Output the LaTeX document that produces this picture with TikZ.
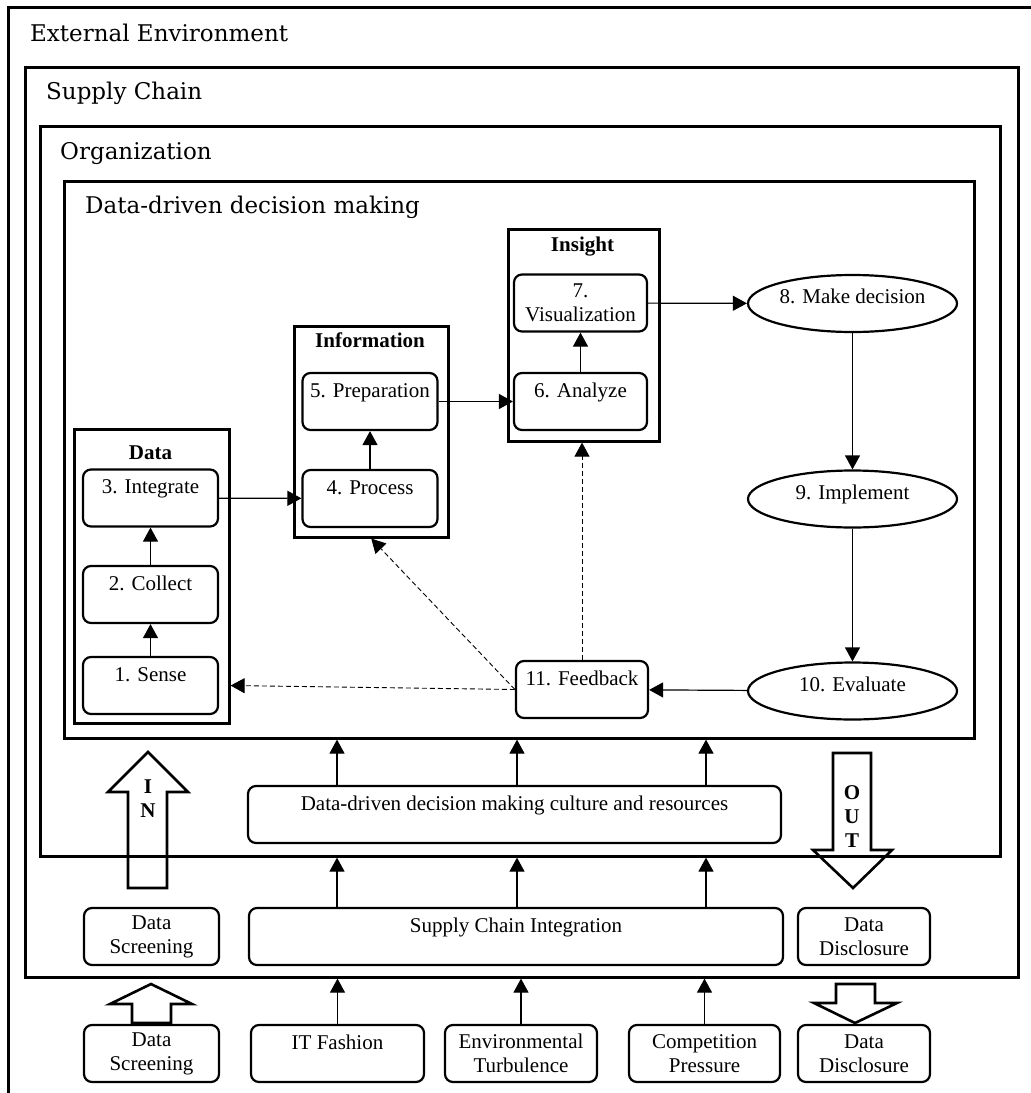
\documentclass[tikz,border=0pt]{standalone}
\usepackage{fontspec}
\setmainfont{Liberation Serif}
\newfontfamily\headfont{DejaVu Serif}
\usetikzlibrary{positioning, shapes.geometric, arrows.meta}

\begin{document}
\begin{tikzpicture}[x=1pt, y=-1pt,
  frame/.style={draw, line width=2.6pt, inner sep=0pt, anchor=north west},
  layer/.style={anchor=base west, inner sep=0pt, font=\headfont\fontsize{23}{27}\selectfont},
  group/.style={draw, line width=2.6pt, inner sep=0pt, anchor=north west},
  grouplbl/.style={anchor=base, inner sep=0pt, font=\bfseries\fontsize{21}{24}\selectfont},
  box/.style={draw, rounded corners=8pt, line width=2.2pt, minimum height=57pt,
              inner sep=0pt, align=center, font=\fontsize{21}{24}\selectfont},
  stage/.style={box, minimum width=135pt, text height=14.5pt, text depth=23.5pt},
  oval/.style={draw, ellipse, line width=2.2pt, minimum width=209pt, minimum height=57pt,
               inner sep=0pt, text height=14.5pt, text depth=14pt, font=\fontsize{21}{24}\selectfont},
  flow/.style={line width=1.2pt, -{Triangle[length=14pt, width=15pt]}},
  back/.style={flow, line width=0.9pt, dash pattern=on 5pt off 3pt},
  blk/.style={line width=2.6pt, line join=miter},
  io/.style={align=center, inner sep=0pt, font=\bfseries\fontsize{21}{24}\selectfont}
]
  \useasboundingbox (0,0) rectangle (1031,1093);

  % Nested layers
  \node[frame, minimum width=1040pt, minimum height=1110pt] (env) at (7,6) {};
  \node[frame, minimum width=993pt, minimum height=910pt] (sc) at (24,66) {};
  \node[frame, minimum width=960pt, minimum height=730pt] (org) at (39,125) {};
  \node[frame, minimum width=910pt, minimum height=557pt] (dddm) at (63,180) {};
  \node[layer] (envlbl) at (30,41) {External Environment};
  \node[layer] (sclbl) at (46,99) {Supply Chain};
  \node[layer] (orglbl) at (60,159) {Organization};
  \node[layer] (dddmlbl) at (85,213) {Data-driven decision making};

  % Data / Information / Insight groups
  \node[group, minimum width=155pt, minimum height=294pt] (data) at (73,428) {};
  \node[grouplbl] (datalbl) at (150.5,459) {Data};
  \node[group, minimum width=154pt, minimum height=211pt] (info) at (293,325) {};
  \node[grouplbl] (infolbl) at (370,347) {Information};
  \node[group, minimum width=151pt, minimum height=212pt] (insight) at (507,228) {};
  \node[grouplbl] (insightlbl) at (582.5,251) {Insight};

  % Stages
  \node[stage] (sense) at (150.5,685.5) {1. Sense};
  \node[stage] (collect) at (150.5,594.5) {2. Collect};
  \node[stage] (integ) at (150.5,498) {3. Integrate};
  \node[stage] (proc) at (370,498.5) {4. Process};
  \node[stage] (prep) at (370,401.5) {5. Preparation};
  \node[stage, minimum width=133pt] (analyze) at (580.5,401.5) {6. Analyze};
  \node[box, minimum width=133pt] (visual) at (580.5,303) {7.\\Visualization};
  \node[oval] (decide) at (852.5,303.5) {8. Make decision};
  \node[oval] (impl) at (852.5,499) {9. Implement};
  \node[oval] (eval) at (852.5,691) {10. Evaluate};
  \node[stage, minimum width=132pt] (feedback) at (582,689.5) {11. Feedback};

  \draw[flow] (sense) -- (collect);
  \draw[flow] (collect) -- (integ);
  \draw[flow] (integ) -- (proc);
  \draw[flow] (proc) -- (prep);
  \draw[flow] (prep) -- (analyze);
  \draw[flow] (analyze) -- (visual);
  \draw[flow] (visual) -- (decide);
  \draw[flow] (decide) -- (impl);
  \draw[flow] (impl) -- (eval);
  \draw[flow] (eval) -- (feedback);

  % Feedback loops
  \draw[back] (feedback.west) -- (sense.east -| data.east);
  \draw[back] (feedback.west) -- (info.south);
  \draw[back] (feedback.north) -- (feedback.north |- insight.south);

  % Organization and supply chain levels
  \node[stage, minimum width=533pt] (culture) at (514.5,814.5) {Data-driven decision making culture and resources};
  \node[stage, minimum width=534pt] (sci) at (516,936.5) {Supply Chain Integration};
  \node[box, minimum width=135pt] (screenin) at (151.5,936.5) {Data\\Screening};
  \node[box, minimum width=132pt] (disclin) at (864,936.5) {Data\\Disclosure};

  \foreach \x in {337,517,706}{
    \coordinate (c\x) at (\x,0);
    \draw[flow] (culture.north -| c\x) -- (dddm.south -| c\x);
    \draw[flow] (sci.north -| c\x) -- (org.south -| c\x);
  }

  % External factors
  \node[box, minimum width=135pt] (screenout) at (151.5,1053.5) {Data\\Screening};
  \node[stage, minimum width=173pt] (itf) at (337.5,1053.5) {IT Fashion};
  \node[box, minimum width=152pt] (turb) at (521,1053.5) {Environmental\\Turbulence};
  \node[box, minimum width=151pt] (comp) at (704.5,1053.5) {Competition\\Pressure};
  \node[box, minimum width=132pt] (disclout) at (864,1053.5) {Data\\Disclosure};

  \foreach \n in {itf, turb, comp}{
    \draw[flow] (\n.north) -- (\n.north |- sc.south);
  }

  % IN / OUT block arrows
  \draw[blk] (128,888) -- (128,792) -- (108,792) -- (148,752) -- (188,792)
    -- (167,792) -- (167,888) -- cycle;
  \node[io] (inlbl) at (148,798.5) {I\\N};
  \draw[blk] (833,753) -- (833,850) -- (813,850) -- (853,888) -- (892,850)
    -- (871,850) -- (871,753) -- cycle;
  \node[io] (outlbl) at (852,817) {O\\U\\T};
  \draw[blk] (132,1023) -- (132,1004) -- (110,1004) -- (151,984) -- (192,1004)
    -- (171,1004) -- (171,1023) -- cycle;
  \draw[blk] (836,984) -- (836,1003) -- (814,1003) -- (855,1023) -- (897,1003)
    -- (875,1003) -- (875,984) -- cycle;
\end{tikzpicture}
\end{document}
